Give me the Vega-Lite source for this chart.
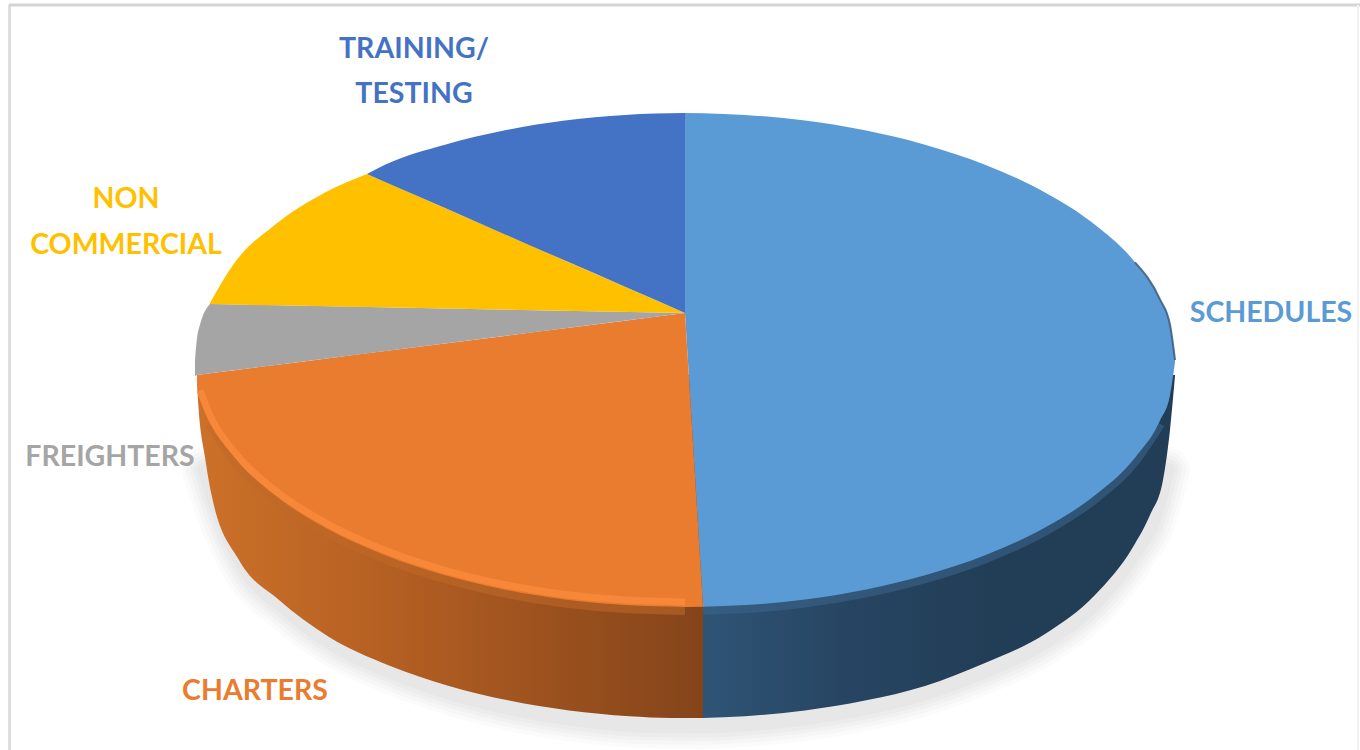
{
"$schema":"https://vega.github.io/schema/vega-lite/v6.json",
"width":1360,"height":750,"padding":0,"autosize":{"type":"none"},"background":"white",
"config":{"view":{"stroke":null},"axis":{"disable":true},"legend":{"disable":true}},
"datasets":{
"faces":[
{"slice":"Schedules","part":"a","x":685,"y":113,"y2":313},{"slice":"Schedules","part":"a","x":703,"y":113.2,"y2":606.8},
{"slice":"Schedules","part":"b","x":703,"y":113.2,"y2":606.8},{"slice":"Schedules","part":"b","x":745,"y":114.9,"y2":605.1},{"slice":"Schedules","part":"b","x":805,"y":120.5,"y2":599.5},{"slice":"Schedules","part":"b","x":865,"y":130.3,"y2":589.7},{"slice":"Schedules","part":"b","x":925,"y":144.7,"y2":575.3},{"slice":"Schedules","part":"b","x":985,"y":164.7,"y2":555.3},{"slice":"Schedules","part":"b","x":1045,"y":192.4,"y2":527.6},{"slice":"Schedules","part":"b","x":1095,"y":224.7,"y2":495.3},{"slice":"Schedules","part":"b","x":1135,"y":262.3,"y2":457.7},{"slice":"Schedules","part":"b","x":1160,"y":299.4,"y2":420.6},{"slice":"Schedules","part":"b","x":1170,"y":324.8,"y2":395.2},{"slice":"Schedules","part":"b","x":1175,"y":360,"y2":362},
{"slice":"Charters","part":"a","x":197,"y":375,"y2":382},{"slice":"Charters","part":"a","x":200,"y":374.6,"y2":395.2},{"slice":"Charters","part":"a","x":210,"y":373.3,"y2":420.6},{"slice":"Charters","part":"a","x":235,"y":370.2,"y2":457.7},{"slice":"Charters","part":"a","x":275,"y":365.1,"y2":495.3},{"slice":"Charters","part":"a","x":325,"y":358.7,"y2":527.6},{"slice":"Charters","part":"a","x":385,"y":351.1,"y2":555.3},{"slice":"Charters","part":"a","x":445,"y":343.5,"y2":575.3},{"slice":"Charters","part":"a","x":505,"y":335.9,"y2":589.7},{"slice":"Charters","part":"a","x":565,"y":328.3,"y2":599.5},{"slice":"Charters","part":"a","x":625,"y":320.7,"y2":605.1},{"slice":"Charters","part":"a","x":685,"y":313,"y2":606.9},
{"slice":"Charters","part":"b","x":685,"y":313,"y2":606.9},{"slice":"Charters","part":"b","x":703,"y":606.8,"y2":606.8},
{"slice":"Freighters","part":"a","x":195,"y":360,"y2":376},{"slice":"Freighters","part":"a","x":197,"y":338,"y2":375},{"slice":"Freighters","part":"a","x":200,"y":324.8,"y2":374.6},{"slice":"Freighters","part":"a","x":210,"y":304,"y2":373.3},
{"slice":"Freighters","part":"b","x":210,"y":304,"y2":373.3},{"slice":"Freighters","part":"b","x":685,"y":313,"y2":313},
{"slice":"Non Commercial","part":"a","x":210,"y":303,"y2":304},{"slice":"Non Commercial","part":"a","x":235,"y":262.3,"y2":304.5},{"slice":"Non Commercial","part":"a","x":275,"y":224.7,"y2":305.3},{"slice":"Non Commercial","part":"a","x":325,"y":192.4,"y2":306.3},{"slice":"Non Commercial","part":"a","x":367,"y":174,"y2":307.1},
{"slice":"Non Commercial","part":"b","x":367,"y":174,"y2":307.1},{"slice":"Non Commercial","part":"b","x":685,"y":313,"y2":313},
{"slice":"Training/Testing","part":"a","x":367,"y":174,"y2":174},{"slice":"Training/Testing","part":"a","x":385,"y":164.7,"y2":181.9},{"slice":"Training/Testing","part":"a","x":445,"y":144.7,"y2":208.1},{"slice":"Training/Testing","part":"a","x":505,"y":130.3,"y2":234.4},{"slice":"Training/Testing","part":"a","x":565,"y":120.5,"y2":260.6},{"slice":"Training/Testing","part":"a","x":625,"y":114.9,"y2":286.8},{"slice":"Training/Testing","part":"a","x":685,"y":113,"y2":313}
],
"wallCharters":[
{"x":197,"y":375,"y2":383},{"x":198,"y":375,"y2":400},{"x":205,"y":375,"y2":457},{"x":212,"y":375,"y2":497},{"x":239,"y":375,"y2":560},{"x":279,"y":375,"y2":600},{"x":329,"y":375,"y2":636.9},{"x":389,"y":375,"y2":665.4},{"x":449,"y":375,"y2":685.9},{"x":509,"y":375,"y2":700.6},{"x":569,"y":375,"y2":710.5},{"x":629,"y":375,"y2":716.2},{"x":671,"y":375,"y2":717.9},{"x":703,"y":375,"y2":718}
],
"wallSchedules":[
{"x":703,"y":375,"y2":718},{"x":745,"y":375,"y2":716.2},{"x":805,"y":375,"y2":710.5},{"x":865,"y":375,"y2":700.6},{"x":925,"y":375,"y2":685.9},{"x":985,"y":375,"y2":663},{"x":1045,"y":375,"y2":634},{"x":1095,"y":375,"y2":595},{"x":1133,"y":375,"y2":547},{"x":1150,"y":375,"y2":515},{"x":1163,"y":375,"y2":480},{"x":1170,"y":375,"y2":430},{"x":1175,"y":375,"y2":376}
],
"shadow":[
{"x":205,"y":470},{"x":220,"y":515},{"x":245,"y":568},{"x":285,"y":608},{"x":335,"y":645},{"x":395,"y":673},{"x":455,"y":694},{"x":515,"y":709},{"x":575,"y":719},{"x":635,"y":725},{"x":703,"y":726},{"x":745,"y":724},{"x":805,"y":718},{"x":865,"y":708},{"x":925,"y":693},{"x":985,"y":671},{"x":1045,"y":642},{"x":1095,"y":603},{"x":1133,"y":555},{"x":1155,"y":515},{"x":1167,"y":470}
],
"labels":[
{"label":"TRAINING/","slice":"Training/Testing","x":414,"y":48},{"label":"TESTING","slice":"Training/Testing","x":414,"y":93},{"label":"NON","slice":"Non Commercial","x":126,"y":198},{"label":"COMMERCIAL","slice":"Non Commercial","x":126,"y":244},{"label":"FREIGHTERS","slice":"Freighters","x":110,"y":456},{"label":"CHARTERS","slice":"Charters","x":255,"y":690},{"label":"SCHEDULES","slice":"Schedules","x":1271,"y":312}
],
"frameLeft":[{"x":9.5,"y":5},{"x":9.5,"y":750}],
"frameTop":[{"x":9,"y":5},{"x":1360,"y":5}],
"frameRight":[{"x":1358,"y":5},{"x":1358,"y":750}]
},
"encoding":{
"x":{"field":"x","type":"quantitative","scale":{"domain":[0,1360],"nice":false,"zero":false},"axis":null},
"y":{"field":"y","type":"quantitative","scale":{"domain":[750,0],"nice":false,"zero":false},"axis":null}
},
"layer":[
{"data":{"name":"frameLeft"},"mark":{"type":"line","stroke":"#dedede","strokeWidth":3},"encoding":{}},
{"data":{"name":"frameTop"},"mark":{"type":"line","stroke":"#d4d4d4","strokeWidth":3},"encoding":{}},
{"data":{"name":"frameRight"},"mark":{"type":"line","stroke":"#f2f2f2","strokeWidth":2},"encoding":{}},
{"data":{"name":"shadow"},"mark":{"type":"line","interpolate":"monotone","stroke":"#000000","strokeOpacity":0.016,"strokeWidth":46,"strokeCap":"round"},"encoding":{}},
{"data":{"name":"shadow"},"mark":{"type":"line","interpolate":"monotone","stroke":"#000000","strokeOpacity":0.018,"strokeWidth":38,"strokeCap":"round"},"encoding":{}},
{"data":{"name":"shadow"},"mark":{"type":"line","interpolate":"monotone","stroke":"#000000","strokeOpacity":0.02,"strokeWidth":30,"strokeCap":"round"},"encoding":{}},
{"data":{"name":"shadow"},"mark":{"type":"line","interpolate":"monotone","stroke":"#000000","strokeOpacity":0.02,"strokeWidth":23,"strokeCap":"round"},"encoding":{}},
{"data":{"name":"shadow"},"mark":{"type":"line","interpolate":"monotone","stroke":"#000000","strokeOpacity":0.02,"strokeWidth":15,"strokeCap":"round"},"encoding":{}},
{"data":{"name":"wallCharters"},"mark":{"type":"area","interpolate":"monotone","color":{"gradient":"linear","x1":0,"x2":1,"y1":0,"y2":0,"stops":[{"offset":0,"color":"#cc7129"},{"offset":0.4,"color":"#b35e22"},{"offset":1,"color":"#84441a"}]}},"encoding":{"y2":{"field":"y2"}}},
{"data":{"name":"wallSchedules"},"mark":{"type":"area","interpolate":"monotone","color":{"gradient":"linear","x1":0,"x2":1,"y1":0,"y2":0,"stops":[{"offset":0,"color":"#2f5475"},{"offset":0.3,"color":"#274563"},{"offset":0.6,"color":"#223e57"},{"offset":1,"color":"#223e57"}]}},"encoding":{"y2":{"field":"y2"}}},
{"data":{"name":"faces"},"transform":[{"filter":"datum.slice=='Charters' && datum.part=='a' && datum.x>=210"}],"mark":{"type":"line","interpolate":"monotone","stroke":"#c06a28","strokeWidth":10,"strokeOpacity":0.55,"yOffset":3},"encoding":{"y":{"field":"y2","type":"quantitative"}}},
{"data":{"name":"faces"},"transform":[{"filter":"datum.slice=='Schedules' && datum.part=='b' && datum.x<=1160"}],"mark":{"type":"line","interpolate":"monotone","stroke":"#3b6488","strokeWidth":10,"strokeOpacity":0.6,"yOffset":3},"encoding":{"y":{"field":"y2","type":"quantitative"}}},
{"data":{"name":"faces"},"mark":{"type":"area","interpolate":"monotone"},"encoding":{"y2":{"field":"y2"},"detail":{"field":"part"},"color":{"field":"slice","type":"nominal","legend":null,"scale":{"domain":["Schedules","Charters","Freighters","Non Commercial","Training/Testing"],"range":["#5b9bd5","#ea7c30","#a5a5a5","#ffc000","#4472c4"]}}}},
{"data":{"name":"faces"},"transform":[{"filter":"datum.slice=='Charters' && datum.part=='a' && datum.x>=200"}],"mark":{"type":"line","interpolate":"monotone","stroke":"#f98b3b","strokeWidth":7,"strokeOpacity":0.85,"yOffset":-5},"encoding":{"y":{"field":"y2","type":"quantitative"}}},
{"data":{"name":"faces"},"transform":[{"filter":"datum.slice=='Schedules' && datum.x>=1135"}],"mark":{"type":"line","interpolate":"monotone","stroke":"#2f5475","strokeWidth":2,"strokeOpacity":0.8},"encoding":{"y":{"field":"y","type":"quantitative"}}},
{"data":{"name":"labels"},"mark":{"type":"text","font":"Lato","fontWeight":700,"fontSize":28.5,"dy":1,"align":"center","baseline":"middle"},"encoding":{"text":{"field":"label"},"color":{"field":"slice","type":"nominal","legend":null}}}
]
}
